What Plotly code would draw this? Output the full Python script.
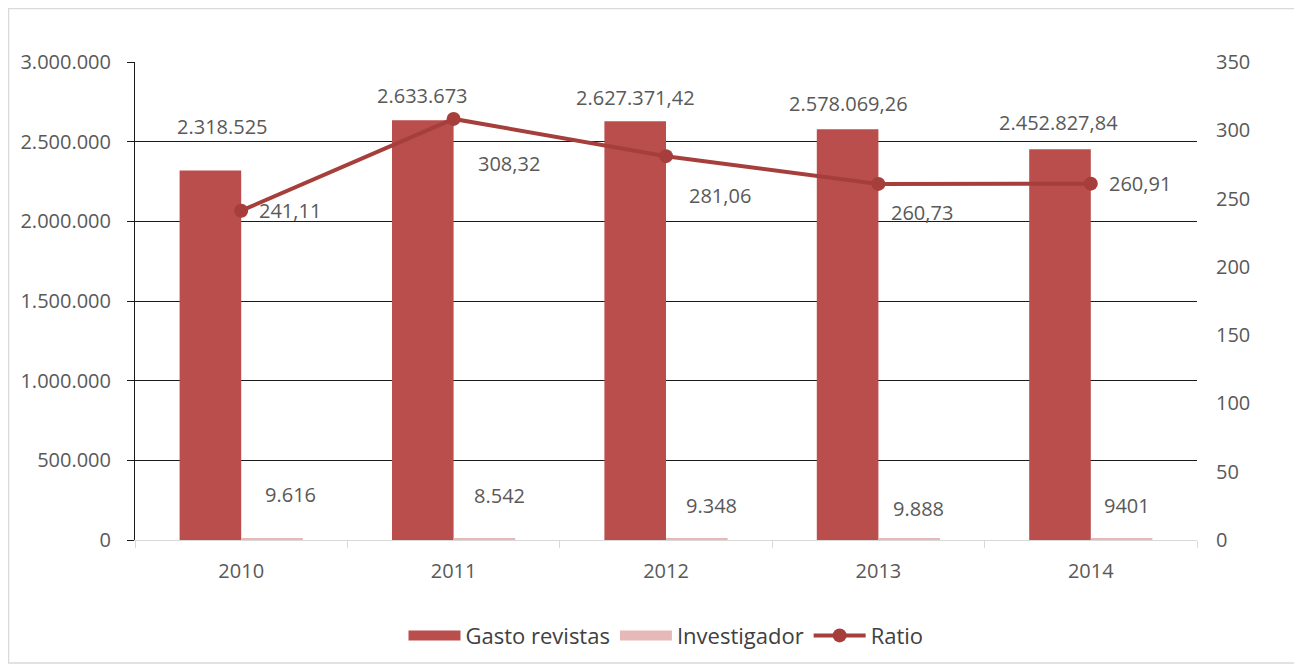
import plotly.graph_objects as go

years = ["2010", "2011", "2012", "2013", "2014"]
gasto = [2318525, 2633673, 2627371.42, 2578069.26, 2452827.84]
investigador = [9616, 8542, 9348, 9888, 9401]
ratio = [241.11, 308.32, 281.06, 260.73, 260.91]

gasto_text = ["2.318.525", "2.633.673", "2.627.371,42", "2.578.069,26", "2.452.827,84"]
invest_text = ["9.616", "8.542", "9.348", "9.888", "9401"]
ratio_text = ["241,11", "308,32", "281,06", "260,73", "260,91"]

# label offsets (pixels) mimicking the original placement
gasto_dx = [-19, -31, -31, -30, -32]
gasto_dy = [44, 25, 24, 26, 27]
invest_dx = [49, 46, 45, 40, 36]
invest_dy = [44, 43, 33, 30, 33]
ratio_dx = [49, 55, 54, 44, 49]
ratio_dy = [0, -45, -39, -29, 0]

C_GASTO = "#B94E4C"
C_INV = "#E6B9B8"
C_RATIO = "#A63F3B"
TXT = "#595959"
FONT = "Open Sans"
FS = 20

fig = go.Figure()
fig.add_trace(go.Bar(x=years, y=gasto, name="Gasto revistas", marker_color=C_GASTO,
                     marker_line_width=0, hoverinfo="skip", showlegend=False))
fig.add_trace(go.Bar(x=years, y=investigador, name="Investigador", marker_color=C_INV,
                     marker_line_width=0, hoverinfo="skip", showlegend=False))
# legend-only entries giving wide rectangular swatches like the original
fig.add_trace(go.Scatter(x=[None], y=[None], name="Gasto revistas", mode="lines",
                         line=dict(color=C_GASTO, width=13), hoverinfo="skip"))
fig.add_trace(go.Scatter(x=[None], y=[None], name="Investigador", mode="lines",
                         line=dict(color=C_INV, width=13), hoverinfo="skip"))
fig.add_trace(go.Scatter(x=years, y=ratio, name="Ratio", yaxis="y2", mode="lines+markers",
                         line=dict(color=C_RATIO, width=4),
                         marker=dict(color=C_RATIO, size=14), hoverinfo="skip"))

ann = []
for i, yr in enumerate(years):
    ann.append(dict(x=i, xref="x", y=gasto[i], yref="y", text=gasto_text[i], showarrow=False,
                    xshift=gasto_dx[i], yshift=gasto_dy[i],
                    font=dict(family=FONT, size=FS, color=TXT)))
    ann.append(dict(x=i, xref="x", y=investigador[i], yref="y", text=invest_text[i], showarrow=False,
                    xshift=invest_dx[i], yshift=invest_dy[i],
                    font=dict(family=FONT, size=FS, color=TXT)))
    ann.append(dict(x=i, xref="x", y=ratio[i], yref="y2", text=ratio_text[i], showarrow=False,
                    xshift=ratio_dx[i], yshift=ratio_dy[i],
                    font=dict(family=FONT, size=FS, color=TXT)))

# page has an 8px body margin: figure is 1294x663 so that plot area sits at x 135-1197, y 62-540
W, H = 1294, 663
ML, MT = 127, 54
PW, PH = 1062, 478

fig.update_layout(
    width=W, height=H,
    margin=dict(l=ML, r=W - ML - PW, t=MT, b=H - MT - PH),
    paper_bgcolor="white", plot_bgcolor="white",
    separators=",.",
    barmode="group", bargap=0.42, bargroupgap=0,
    font=dict(family=FONT, size=FS, color=TXT),
    showlegend=True,
    legend=dict(orientation="h", x=0.5, xanchor="center", y=-0.2, yanchor="middle",
                font=dict(family=FONT, size=22, color="#404040"), traceorder="normal",
                itemwidth=52),
    xaxis=dict(type="category", range=[-0.5, 4.5], autorange=False, showgrid=False,
               showline=True, linecolor="#D9D9D9",
               linewidth=1, ticks="outside", tickson="boundaries", ticklen=7,
               tickcolor="#D9D9D9", tickfont=dict(size=FS, color=TXT), zeroline=False,
               ticklabelstandoff=13),
    yaxis=dict(range=[0, 3000000], autorange=False, dtick=500000, tickformat=",d", showgrid=True,
               gridcolor="#1a1a1a", gridwidth=1, showline=True, linecolor="#1a1a1a",
               linewidth=1, ticks="outside", ticklen=7, tickcolor="#1a1a1a",
               zeroline=False, tickfont=dict(size=FS, color=TXT), ticklabelstandoff=12),
    yaxis2=dict(range=[0, 350], autorange=False, dtick=50, overlaying="y", side="right", showgrid=False,
                showline=False, zeroline=False, ticks="", ticklen=0,
                tickfont=dict(size=FS, color=TXT), ticklabelstandoff=18),
    annotations=ann,
    shapes=[dict(type="rect", xref="paper", yref="paper",
                 x0=(8.5 - 135) / PW, x1=(1297 - 135) / PW,
                 y0=(540 - 663) / PH, y1=(540 - 8.5) / PH,
                 line=dict(color="#D9D9D9", width=1.5), fillcolor="rgba(0,0,0,0)",
                 layer="below")],
)

fig.write_html("out.html")
